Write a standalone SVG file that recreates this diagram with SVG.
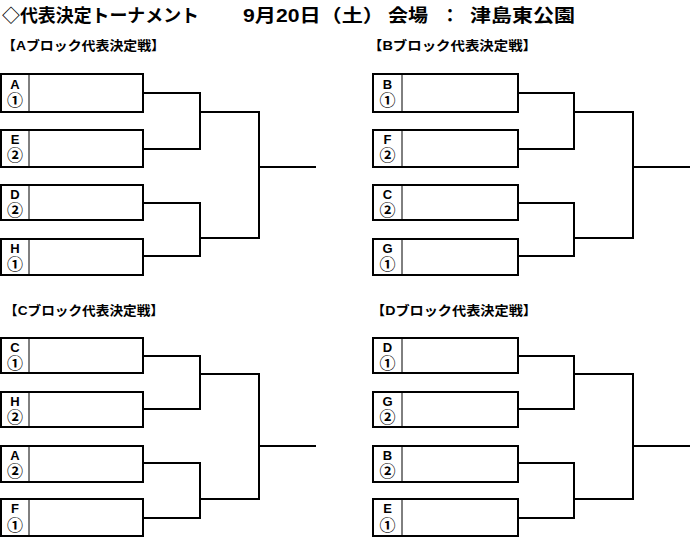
<svg xmlns="http://www.w3.org/2000/svg" width="699" height="544" viewBox="0 0 699 544">
<style>
text{font-family:"Liberation Sans","Noto Sans CJK JP",sans-serif;font-weight:bold;fill:#000}
.title{font-size:18px}
.head{font-size:13px}
.ltr{font-size:13px;text-anchor:middle}
.rk{font-size:16px;text-anchor:middle}
.box{fill:#fff;stroke:#000;stroke-width:2}
.div{stroke:#000;stroke-width:1}
.con{fill:none;stroke:#000;stroke-width:2}
</style>
<rect width="699" height="544" fill="#fff"/>
<g id="title">
<text class="title" x="2" y="22" textLength="197" lengthAdjust="spacingAndGlyphs">◇代表決定トーナメント</text>
<text class="title" x="243" y="22" textLength="141" lengthAdjust="spacingAndGlyphs">9月20日（土）</text>
<text class="title" x="388" y="22" textLength="40" lengthAdjust="spacingAndGlyphs">会場</text>
<text class="title" x="441" y="22">：</text>
<text class="title" x="470" y="22" textLength="105" lengthAdjust="spacingAndGlyphs">津島東公園</text>
</g>
<g id="headings">
<text class="head" x="2" y="50" textLength="163" lengthAdjust="spacingAndGlyphs">【Aブロック代表決定戦】</text>
<text class="head" x="368" y="50" textLength="169" lengthAdjust="spacingAndGlyphs">【Bブロック代表決定戦】</text>
<text class="head" x="4" y="315" textLength="160" lengthAdjust="spacingAndGlyphs">【Cブロック代表決定戦】</text>
<text class="head" x="371" y="315" textLength="166" lengthAdjust="spacingAndGlyphs">【Dブロック代表決定戦】</text>
</g>
<g id="blockA">
<g id="A1"><rect class="box" x="1" y="74" width="142" height="38"/><line class="div" x1="29" y1="74" x2="29" y2="112"/><text class="ltr" x="15" y="89">A</text><text class="rk" x="15" y="106">①</text></g>
<g id="A2"><rect class="box" x="1" y="130" width="142" height="37"/><line class="div" x1="29" y1="130" x2="29" y2="167"/><text class="ltr" x="15" y="144">E</text><text class="rk" x="15" y="161">②</text></g>
<g id="A3"><rect class="box" x="1" y="185" width="142" height="35"/><line class="div" x1="29" y1="185" x2="29" y2="220"/><text class="ltr" x="15" y="199">D</text><text class="rk" x="15" y="216">②</text></g>
<g id="A4"><rect class="box" x="1" y="239" width="142" height="36"/><line class="div" x1="29" y1="239" x2="29" y2="275"/><text class="ltr" x="15" y="253">H</text><text class="rk" x="15" y="270">①</text></g>
</g>
<g id="blockB">
<g id="B1"><rect class="box" x="373" y="74" width="145" height="38"/><line class="div" x1="402" y1="74" x2="402" y2="112"/><text class="ltr" x="387.5" y="89">B</text><text class="rk" x="387.5" y="106">①</text></g>
<g id="B2"><rect class="box" x="373" y="130" width="145" height="37"/><line class="div" x1="402" y1="130" x2="402" y2="167"/><text class="ltr" x="387.5" y="144">F</text><text class="rk" x="387.5" y="161">②</text></g>
<g id="B3"><rect class="box" x="373" y="185" width="145" height="35"/><line class="div" x1="402" y1="185" x2="402" y2="220"/><text class="ltr" x="387.5" y="199">C</text><text class="rk" x="387.5" y="216">②</text></g>
<g id="B4"><rect class="box" x="373" y="239" width="145" height="36"/><line class="div" x1="402" y1="239" x2="402" y2="275"/><text class="ltr" x="387.5" y="253">G</text><text class="rk" x="387.5" y="270">①</text></g>
</g>
<g id="blockC">
<g id="C1"><rect class="box" x="1" y="338" width="142" height="35"/><line class="div" x1="29" y1="338" x2="29" y2="373"/><text class="ltr" x="15" y="352">C</text><text class="rk" x="15" y="369">①</text></g>
<g id="C2"><rect class="box" x="1" y="392" width="142" height="35"/><line class="div" x1="29" y1="392" x2="29" y2="427"/><text class="ltr" x="15" y="406">H</text><text class="rk" x="15" y="423">②</text></g>
<g id="C3"><rect class="box" x="1" y="446" width="142" height="36"/><line class="div" x1="29" y1="446" x2="29" y2="482"/><text class="ltr" x="15" y="460">A</text><text class="rk" x="15" y="477">②</text></g>
<g id="C4"><rect class="box" x="1" y="499" width="142" height="37"/><line class="div" x1="29" y1="499" x2="29" y2="536"/><text class="ltr" x="15" y="513">F</text><text class="rk" x="15" y="531">①</text></g>
</g>
<g id="blockD">
<g id="D1"><rect class="box" x="373" y="338" width="145" height="35"/><line class="div" x1="402" y1="338" x2="402" y2="373"/><text class="ltr" x="387.5" y="352">D</text><text class="rk" x="387.5" y="369">①</text></g>
<g id="D2"><rect class="box" x="373" y="392" width="145" height="35"/><line class="div" x1="402" y1="392" x2="402" y2="427"/><text class="ltr" x="387.5" y="406">G</text><text class="rk" x="387.5" y="423">②</text></g>
<g id="D3"><rect class="box" x="373" y="446" width="145" height="36"/><line class="div" x1="402" y1="446" x2="402" y2="482"/><text class="ltr" x="387.5" y="460">B</text><text class="rk" x="387.5" y="477">②</text></g>
<g id="D4"><rect class="box" x="373" y="499" width="145" height="37"/><line class="div" x1="402" y1="499" x2="402" y2="536"/><text class="ltr" x="387.5" y="513">E</text><text class="rk" x="387.5" y="531">①</text></g>
</g>
<g id="connectors">
<path class="con" d="M143,93H200V149H143M200,112H259V238H200M143,203H200V256H143M259,167H316"/>
<path class="con" d="M518,93H574V149H518M574,112H633V238H574M518,203H574V256H518M633,167H690"/>
<path class="con" d="M143,356H200V409H143M200,374H259V499H200M143,463H200V518H143M259,446H316"/>
<path class="con" d="M518,356H574V409H518M574,374H633V499H574M518,463H574V518H518M633,446H690"/>
</g>
</svg>
